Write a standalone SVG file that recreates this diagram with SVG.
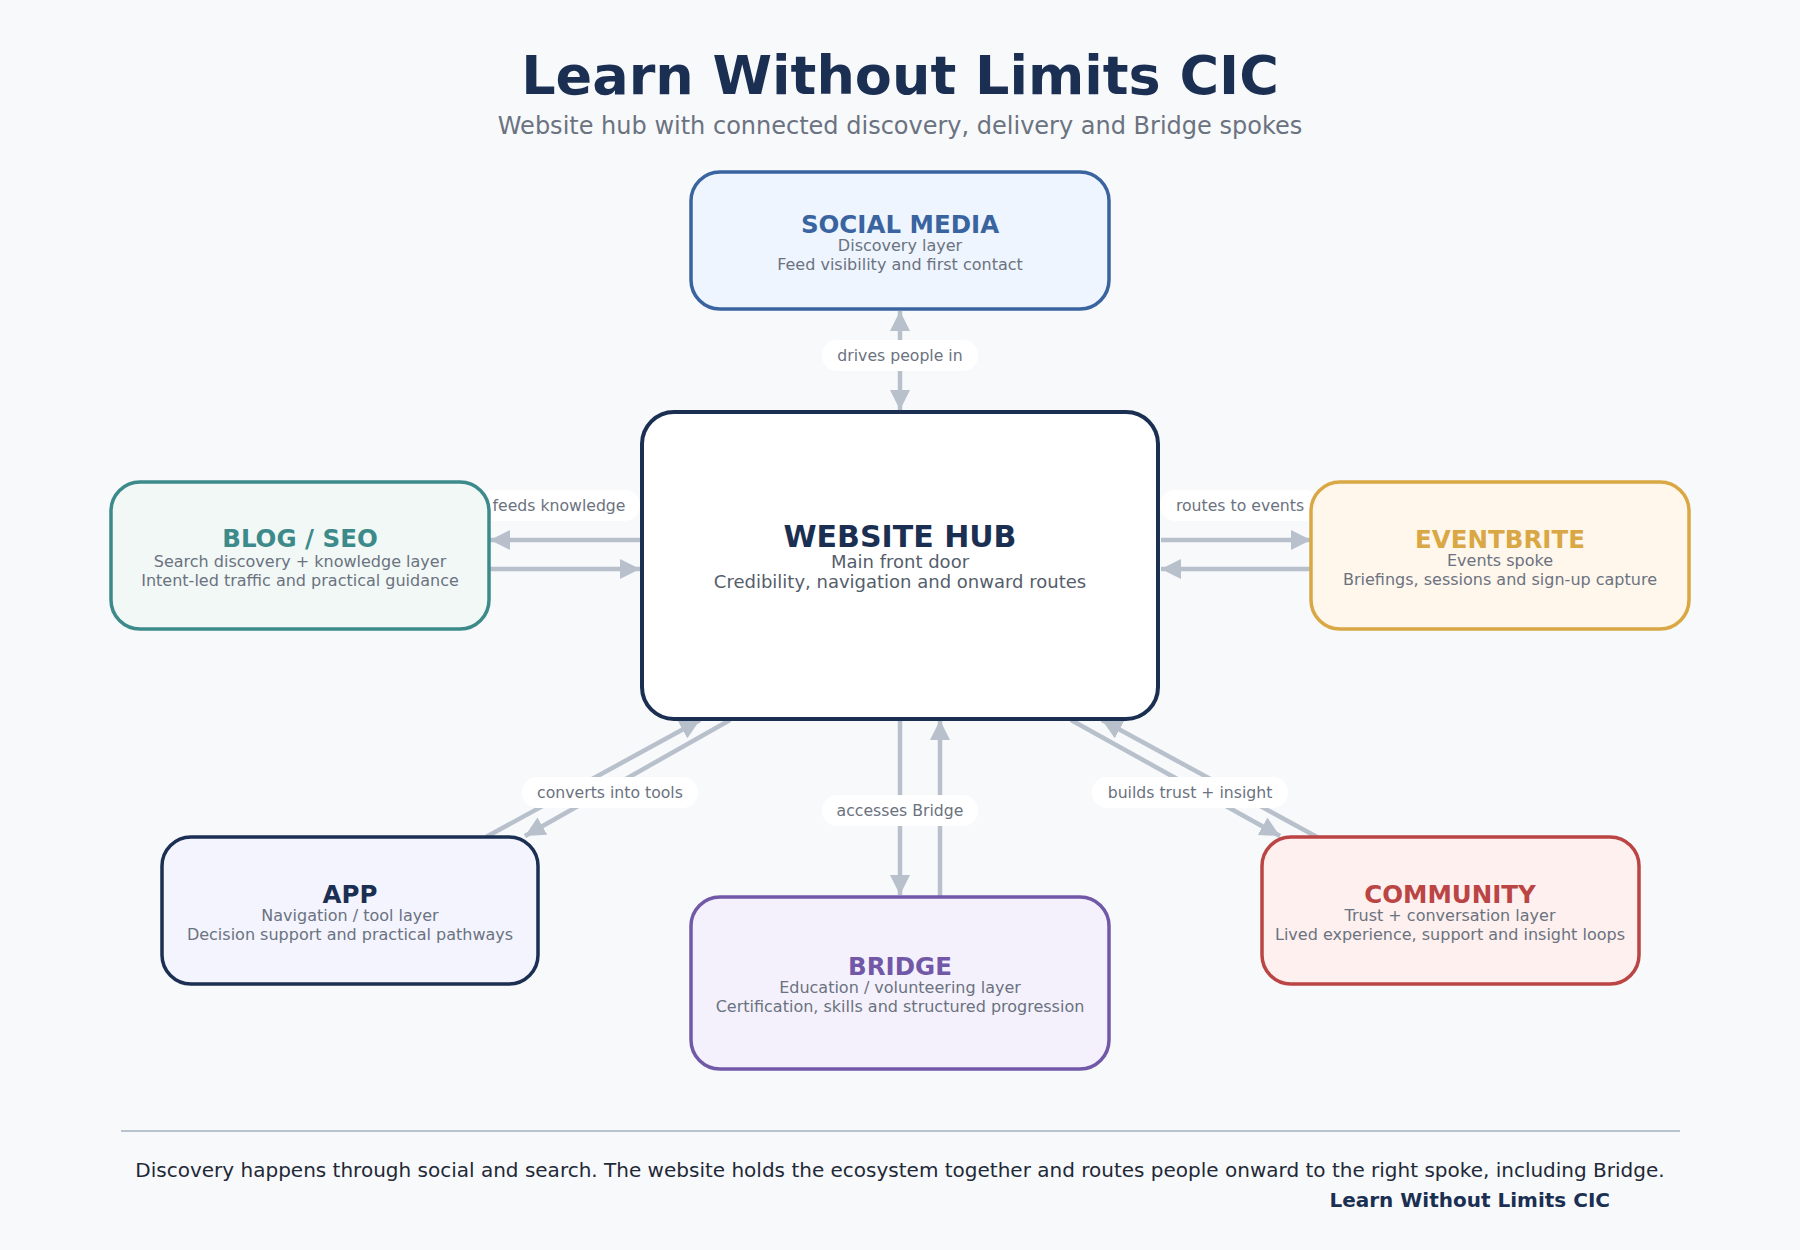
<svg xmlns="http://www.w3.org/2000/svg" width="1800" height="1250" viewBox="0 0 1800 1250">
<defs>
<marker id="ah" viewBox="0 0 10 10" refX="10" refY="5" markerWidth="20" markerHeight="20" markerUnits="userSpaceOnUse" orient="auto"><path d="M0,0 L10,5 L0,10 z" fill="#b8c0cc"/></marker>
</defs>
<style>
text{font-family:"DejaVu Sans","Liberation Sans",sans-serif;text-anchor:middle}
.t{font-weight:bold;font-size:24.5px}
.s{font-size:16px;fill:#6b7280}
.c{stroke:#b8c0cc;stroke-width:4.5;fill:none;marker-end:url(#ah)}
.p{fill:#fff}
.pl{font-size:15.7px;fill:#6b7280}
.b{stroke-width:3.5}
</style>
<rect width="1800" height="1250" fill="#f7f9fb"/>
<text x="900" y="94" font-size="54" font-weight="bold" fill="#1b2f52">Learn Without Limits CIC</text>
<text x="900" y="134" font-size="24" fill="#6b7280">Website hub with connected discovery, delivery and Bridge spokes</text>
<g id="connectors">
<line class="c" x1="900" y1="340" x2="900" y2="311"/>
<line class="c" x1="900" y1="370" x2="900" y2="410"/>
<line class="c" x1="640" y1="540" x2="490" y2="540"/>
<line class="c" x1="490" y1="569" x2="640" y2="569"/>
<line class="c" x1="1161" y1="540" x2="1311" y2="540"/>
<line class="c" x1="1311" y1="569" x2="1161" y2="569"/>
<line class="c" x1="730" y1="720" x2="525" y2="836"/>
<line class="c" x1="486" y1="837" x2="700" y2="720"/>
<line class="c" x1="900" y1="720" x2="900" y2="895"/>
<line class="c" x1="940" y1="897" x2="940" y2="720"/>
<line class="c" x1="1071" y1="720" x2="1280" y2="836"/>
<line class="c" x1="1317" y1="837" x2="1102" y2="720"/>
<rect class="p" x="822" y="340" width="156" height="31" rx="15"/><text class="pl" x="900" y="361">drives people in</text>
<rect class="p" x="478" y="490" width="162" height="31" rx="15"/><text class="pl" x="559" y="511">feeds knowledge</text>
<rect class="p" x="1160" y="490" width="160" height="31" rx="15"/><text class="pl" x="1240" y="511">routes to events</text>
<rect class="p" x="522" y="777" width="176" height="31" rx="15"/><text class="pl" x="610" y="798">converts into tools</text>
<rect class="p" x="822" y="795" width="156" height="31" rx="15"/><text class="pl" x="900" y="816">accesses Bridge</text>
<rect class="p" x="1092" y="777" width="196" height="31" rx="15"/><text class="pl" x="1190" y="798">builds trust + insight</text>
</g>
<g id="social"><rect class="b" x="691" y="172" width="418" height="137" rx="29" fill="#eef5fe" stroke="#3a64a0"/>
<text class="t" x="900" y="233" fill="#3a64a0">SOCIAL MEDIA</text><text class="s" x="900" y="251">Discovery layer</text><text class="s" x="900" y="270">Feed visibility and first contact</text></g>
<g id="hub"><rect x="642" y="412" width="516" height="307" rx="32" fill="#fff" stroke="#1b2f52" stroke-width="4"/>
<text x="900" y="547" font-size="30" font-weight="bold" fill="#1b2f52">WEBSITE HUB</text><text x="900" y="568" font-size="18" fill="#555e6b">Main front door</text><text x="900" y="588" font-size="18" fill="#555e6b">Credibility, navigation and onward routes</text></g>
<g id="blog"><rect class="b" x="111" y="482" width="378" height="147" rx="29" fill="#f1f8f6" stroke="#3d8a8a"/>
<text class="t" x="300" y="547" fill="#3d8a8a">BLOG / SEO</text><text class="s" x="300" y="567">Search discovery + knowledge layer</text><text class="s" x="300" y="586">Intent-led traffic and practical guidance</text></g>
<g id="eventbrite"><rect class="b" x="1311" y="482" width="378" height="147" rx="29" fill="#fff6ec" stroke="#d9a845"/>
<text class="t" x="1500" y="548" fill="#d9a845">EVENTBRITE</text><text class="s" x="1500" y="566">Events spoke</text><text class="s" x="1500" y="585">Briefings, sessions and sign-up capture</text></g>
<g id="app"><rect class="b" x="162" y="837" width="376" height="147" rx="29" fill="#f3f4fd" stroke="#1b2f52"/>
<text class="t" x="350" y="903" fill="#1b2f52">APP</text><text class="s" x="350" y="921">Navigation / tool layer</text><text class="s" x="350" y="940">Decision support and practical pathways</text></g>
<g id="bridge"><rect class="b" x="691" y="897" width="418" height="172" rx="29" fill="#f4f1fc" stroke="#7159a8"/>
<text class="t" x="900" y="975" fill="#7159a8">BRIDGE</text><text class="s" x="900" y="993">Education / volunteering layer</text><text class="s" x="900" y="1012">Certification, skills and structured progression</text></g>
<g id="community"><rect class="b" x="1262" y="837" width="377" height="147" rx="29" fill="#fdf0ee" stroke="#bb4444"/>
<text class="t" x="1450" y="903" fill="#bb4444">COMMUNITY</text><text class="s" x="1450" y="921">Trust + conversation layer</text><text class="s" x="1450" y="940">Lived experience, support and insight loops</text></g>
<line x1="121" y1="1131" x2="1680" y2="1131" stroke="#b8c3cf" stroke-width="2"/>
<text x="900" y="1177" font-size="20" fill="#1f2937">Discovery happens through social and search. The website holds the ecosystem together and routes people onward to the right spoke, including Bridge.</text>
<text x="1610" y="1207" font-size="20" font-weight="bold" fill="#1b2f52" style="text-anchor:end">Learn Without Limits CIC</text>
</svg>
